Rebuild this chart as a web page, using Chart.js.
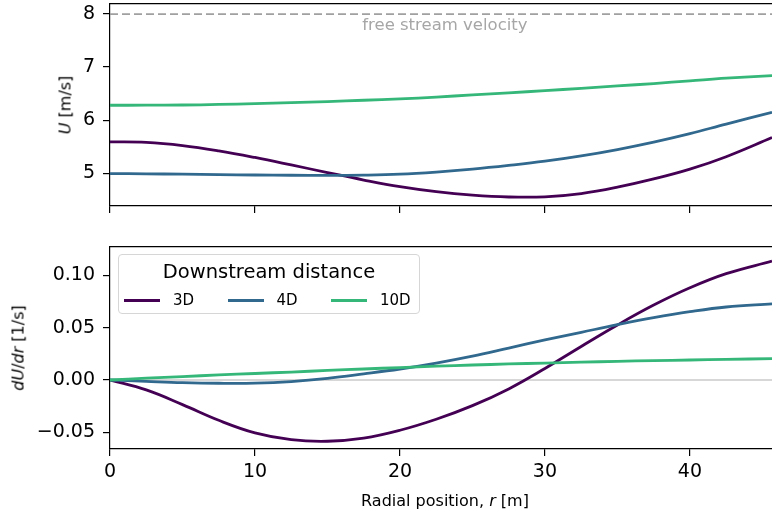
<!DOCTYPE html>
<html>
<head>
<meta charset="utf-8">
<script src="https://cdn.jsdelivr.net/npm/chart.js@4.4.1/dist/chart.umd.min.js"></script>
<style>
  html, body { margin: 0; padding: 0; background: #fff; overflow: hidden; }
  #wrap { position: relative; width: 772px; height: 515px; font-family: "DejaVu Sans", sans-serif; color: #000; }
  canvas { position: absolute; left: 0; }
  #topChart { top: 0; }
  #bottomChart { top: 240px; }
  .ylabel { position: absolute; font-size: 16px; white-space: nowrap; transform: translate(-50%, -50%) rotate(-90deg); }
  .xlabel { position: absolute; font-size: 16px; white-space: nowrap; transform: translate(-50%, -50%); }
  #legend {
    position: absolute; left: 118px; top: 254px; width: 302px; height: 60px; box-sizing: border-box;
    border: 1px solid #d6d6d6; border-radius: 4px; background: rgba(255,255,255,0.8);
  }
  #legend .ltitle { position: absolute; left: 0; right: 0; top: 6px; line-height: 22px; text-align: center; font-size: 19.5px; }
  #legend .litems { position: absolute; left: 5px; top: 36px; display: flex; }
  #legend .item { width: 103.5px; display: flex; align-items: center; font-size: 15px; line-height: 18px; }
  #legend .swatch { width: 36px; height: 3px; margin-right: 13px; }
</style>
</head>
<body>
<div id="wrap">
  <canvas id="topChart" width="772" height="215"></canvas>
  <canvas id="bottomChart" width="772" height="275"></canvas>
  <div class="ylabel" style="left:65px; top:105px;"><i>U</i> [m/s]</div>
  <div class="ylabel" style="left:18px; top:348px;"><i>dU</i>/<i>dr</i> [1/s]</div>
  <div class="xlabel" style="left:445px; top:500px;">Radial position, <i>r</i> [m]</div>
  <div id="legend"><div class="ltitle">Downstream distance</div><div class="litems"></div></div>
</div>
<script>
// radial positions (m)
const rValues = [0, 2.5, 5, 7.5, 10, 12.5, 15, 17.5, 20, 22.5, 25, 27.5, 30, 32.5, 35, 37.5, 40, 42.5, 45.66];

const seriesLabels = ['3D', '4D', '10D'];
const seriesColors = ['#440154', '#31688e', '#35b779'];

// velocity U [m/s]
const u3D  = [5.59, 5.58, 5.52, 5.42, 5.295, 5.155, 5.01, 4.87, 4.745, 4.65, 4.585, 4.55, 4.553, 4.615, 4.735, 4.89, 5.075, 5.31, 5.67];
const u4D  = [4.99, 4.987, 4.98, 4.972, 4.965, 4.96, 4.956, 4.962, 4.98, 5.02, 5.075, 5.145, 5.225, 5.325, 5.445, 5.585, 5.745, 5.925, 6.145];
const u10D = [6.28, 6.281, 6.285, 6.295, 6.31, 6.33, 6.35, 6.375, 6.40, 6.435, 6.475, 6.515, 6.555, 6.60, 6.645, 6.69, 6.74, 6.79, 6.84];

// gradient dU/dr [1/s]
const dudr3D  = [0, -0.0095, -0.0235, -0.0385, -0.0505, -0.057, -0.0585, -0.0555, -0.048, -0.0375, -0.0245, -0.0085, 0.011, 0.032, 0.0525, 0.0715, 0.088, 0.1015, 0.1135];
const dudr4D  = [0, -0.0013, -0.0025, -0.0031, -0.003, -0.0015, 0.0015, 0.0058, 0.0105, 0.0162, 0.0228, 0.0305, 0.0382, 0.0455, 0.0528, 0.0595, 0.0652, 0.0697, 0.0727];
const dudr10D = [0, 0.0017, 0.0033, 0.0048, 0.0062, 0.0076, 0.0091, 0.0105, 0.0119, 0.0132, 0.0143, 0.0153, 0.0162, 0.017, 0.0178, 0.0185, 0.0191, 0.0197, 0.0204];

const rTicks = [0, 10, 20, 30, 40];
const uTicks = [5, 6, 7, 8];
const dudrTicks = [-0.05, 0, 0.05, 0.10];

const freeStream = 8;
const rMin = 0, rMax = 45.66;
const uMin = 4.38, uMax = 8.19;
const dMin = -0.0659, dMax = 0.127;

Chart.defaults.font.family = '"DejaVu Sans", sans-serif';
Chart.defaults.color = '#000';

const toPoints = arr => rValues.map((r, i) => ({ x: r, y: arr[i] }));

function seriesSets(arrays) {
  return arrays.map((arr, i) => ({
    label: seriesLabels[i],
    data: toPoints(arr),
    borderColor: seriesColors[i],
    borderWidth: 2.8,
    pointRadius: 0,
    tension: 0.4,
    order: 3 - i
  }));
}

function refLine(value, color, width, dash) {
  return {
    label: '_ref',
    data: [{ x: rMin, y: value }, { x: rMax, y: value }],
    borderColor: color,
    borderWidth: width,
    borderDash: dash,
    pointRadius: 0,
    order: 10
  };
}

// no extra room for half labels at the ends, the plot area is set by hand
function noPad(a) {
  a.paddingTop = 0; a.paddingBottom = 0; a.paddingLeft = 0; a.paddingRight = 0;
}

function xScale(showLabels, height) {
  return {
    type: 'linear', min: rMin, max: rMax, position: 'bottom',
    afterBuildTicks: a => { a.ticks = rTicks.map(v => ({ value: v })); },
    ticks: { display: showLabels, autoSkip: false, maxRotation: 0, padding: 5, font: { size: 19 } },
    grid: { drawOnChartArea: false, drawTicks: true, tickLength: 7, color: '#000', lineWidth: 1.2 },
    border: { display: true, color: '#000', width: 1.2 },
    afterFit: a => { a.height = height; noPad(a); }
  };
}

function xTopScale(height) {
  return {
    type: 'linear', min: rMin, max: rMax, position: 'top',
    ticks: { display: false },
    grid: { display: false },
    border: { display: true, color: '#000', width: 1.2 },
    afterFit: a => { a.height = height; noPad(a); }
  };
}

function yScale(min, max, tickVals, fmt) {
  return {
    type: 'linear', min: min, max: max, position: 'left',
    afterBuildTicks: a => { a.ticks = tickVals.map(v => ({ value: v })); },
    ticks: { autoSkip: false, padding: 8, font: { size: 19 }, callback: fmt },
    grid: { drawOnChartArea: false, tickLength: 7, color: '#000', lineWidth: 1.2 },
    border: { display: true, color: '#000', width: 1.2 },
    afterFit: a => { a.width = 110; noPad(a); }
  };
}

const freeStreamLabel = {
  id: 'freeStreamLabel',
  afterDatasetsDraw(chart) {
    const { ctx, scales: { x, y } } = chart;
    ctx.save();
    ctx.font = '16.5px "DejaVu Sans"';
    ctx.fillStyle = '#a6a6a6';
    ctx.textAlign = 'center';
    ctx.textBaseline = 'alphabetic';
    ctx.fillText('free stream velocity', x.getPixelForValue(23.1), y.getPixelForValue(freeStream) + 15.5);
    ctx.restore();
  }
};

const commonOpts = {
  responsive: false,
  animation: false,
  devicePixelRatio: 1,
  layout: { padding: 0 },
  plugins: { legend: { display: false }, tooltip: { enabled: false } }
};

new Chart(document.getElementById('topChart'), {
  type: 'line',
  data: {
    datasets: [
      ...seriesSets([u3D, u4D, u10D]),
      refLine(freeStream, '#a0a0a0', 1.8, [8, 4])
    ]
  },
  options: {
    ...commonOpts,
    scales: {
      x: xScale(false, 9),
      xTop: xTopScale(4),
      y: yScale(uMin, uMax, uTicks, v => String(v))
    }
  },
  plugins: [freeStreamLabel]
});

new Chart(document.getElementById('bottomChart'), {
  type: 'line',
  data: {
    datasets: [
      ...seriesSets([dudr3D, dudr4D, dudr10D]),
      refLine(0, '#b0b0b0', 1.1, [])
    ]
  },
  options: {
    ...commonOpts,
    scales: {
      x: xScale(true, 66),
      xTop: xTopScale(7),
      y: yScale(dMin, dMax, dudrTicks, v => (v < 0 ? '\u2212' : '') + Math.abs(v).toFixed(2))
    }
  }
});

// legend built from the series
const items = document.querySelector('#legend .litems');
seriesLabels.forEach((label, i) => {
  const item = document.createElement('div');
  item.className = 'item';
  item.innerHTML = '<span class="swatch" style="background:' + seriesColors[i] + '"></span><span>' + label + '</span>';
  items.appendChild(item);
});
</script>
</body>
</html>
